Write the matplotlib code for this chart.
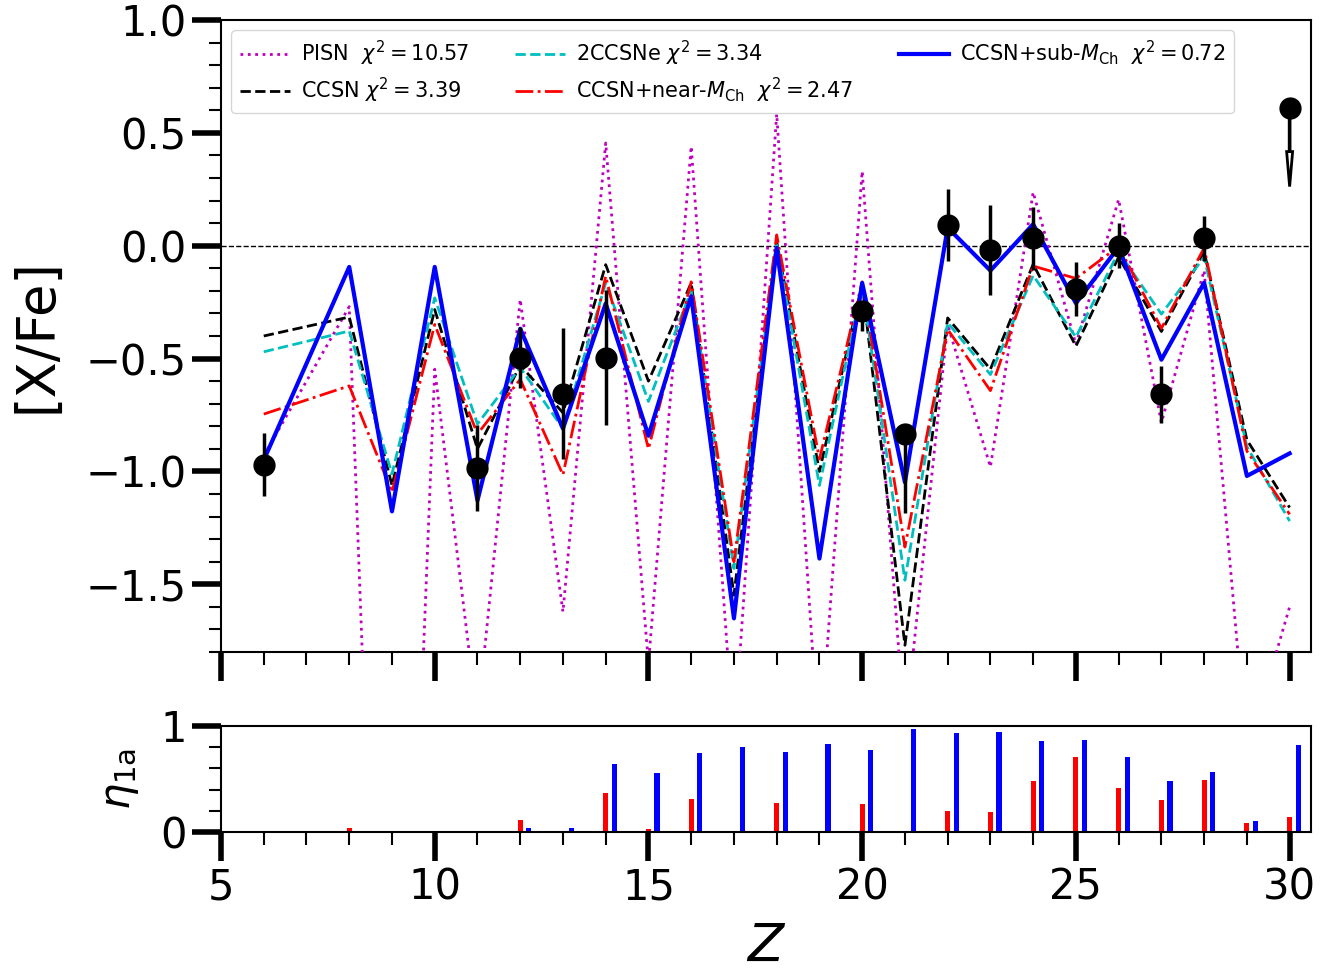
import numpy as np
import matplotlib
matplotlib.use("Agg")
import matplotlib.pyplot as plt
from matplotlib.ticker import MultipleLocator

# ---------------- data ----------------
Z_mod = [6, 8, 9, 10, 11, 12, 13, 14, 15, 16, 17, 18, 19, 20, 21, 22, 23, 24, 25, 26, 27, 28, 29, 30]

pisn = [-0.93, -0.27, -5.3, -0.547, -2.1, -0.238, -1.622, 0.455, -1.85, 0.44, -2.2, 0.583,
        -2.25, 0.33, -2.15, -0.35, -0.98, 0.237, -0.437, 0.205, -0.784, -0.11, -2.25, -1.6]
ccsn = [-0.40, -0.316, -1.062, -0.283, -0.90, -0.53, -0.74, -0.084, -0.60, -0.165, -1.548, 0.018,
        -1.00, -0.17, -1.77, -0.32, -0.547, -0.082, -0.445, -0.05, -0.38, -0.027, -0.86, -1.16]
ccsn2 = [-0.47, -0.378, -1.011, -0.231, -0.79, -0.54, -0.81, -0.165, -0.69, -0.20, -1.43, 0.004,
         -1.062, -0.18, -1.482, -0.341, -0.571, -0.132, -0.405, -0.027, -0.303, -0.05, -0.89, -1.22]
near = [-0.746, -0.621, -1.092, -0.349, -0.834, -0.592, -1.015, -0.135, -0.90, -0.16, -1.40, 0.048,
        -0.945, -0.16, -1.335, -0.371, -0.642, -0.09, -0.145, -0.003, -0.366, -0.01, -0.91, -1.19]
sub = [-0.95, -0.094, -1.177, -0.094, -1.129, -0.368, -0.81, -0.256, -0.842, -0.224, -1.651, -0.01,
       -1.386, -0.165, -1.048, 0.08, -0.11, 0.095, -0.255, -0.006, -0.505, -0.164, -1.02, -0.92]

labels = [r"PISN  $\chi^2=10.57$", r"CCSN $\chi^2=3.39$", r"2CCSNe $\chi^2=3.34$",
          r"CCSN+near-$M_{\rm Ch}$  $\chi^2=2.47$", r"CCSN+sub-$M_{\rm Ch}$  $\chi^2=0.72$"]

Z_obs = [6, 11, 12, 13, 14, 20, 21, 22, 23, 24, 25, 26, 27, 28]
obs = [-0.97, -0.985, -0.496, -0.655, -0.496, -0.29, -0.835, 0.093, -0.019, 0.032, -0.192, 0.0, -0.659, 0.032]
err_lo = [0.14, 0.19, 0.135, 0.29, 0.30, 0.09, 0.35, 0.16, 0.20, 0.14, 0.12, 0.10, 0.127, 0.10]
err_hi = [0.14, 0.19, 0.135, 0.29, 0.30, 0.04, 0.03, 0.16, 0.20, 0.14, 0.12, 0.10, 0.127, 0.10]

Z_lim = [30]
lim_val = [0.608]
lim_len = [0.346]

Z_bar = list(range(6, 31))
eta_near = [0, 0, 0.035, 0, 0, 0, 0.11, 0.005, 0.37, 0.025, 0.312, 0.006, 0.274, 0, 0.261, 0.006,
            0.194, 0.191, 0.481, 0.71, 0.414, 0.303, 0.494, 0.086, 0.137]
eta_sub = [0, 0, 0.013, 0, 0, 0, 0.035, 0.038, 0.646, 0.56, 0.748, 0.8, 0.752, 0.828, 0.771, 0.968,
           0.93, 0.943, 0.863, 0.866, 0.704, 0.481, 0.57, 0.108, 0.818]

# ---------------- figure ----------------
W, H = 1341, 973
fig = plt.figure(figsize=(W / 100, H / 100), dpi=100)

def fx(px):
    return px / W

def fy(py):
    return 1 - py / H

L, R = 221, 1311
ax = fig.add_axes([fx(L), fy(652), fx(R - L), fy(20) - fy(652)])
ax2 = fig.add_axes([fx(L), fy(832), fx(R - L), fy(726) - fy(832)])

for a in (ax, ax2):
    for s in a.spines.values():
        s.set_linewidth(1.5)
    a.tick_params(which='major', direction='out', length=21, width=4, labelsize=30, pad=3.5)
    a.tick_params(which='minor', direction='out', length=9, width=1.5)
    a.set_xlim(5, 30.5)
    a.xaxis.set_major_locator(MultipleLocator(5))
    a.xaxis.set_minor_locator(MultipleLocator(1))

# top panel
ax.plot(Z_mod, pisn, color='m', ls=':', lw=2, label=labels[0], zorder=3)
ax.plot(Z_mod, ccsn, color='k', ls='--', lw=2, label=labels[1], zorder=3)
ax.plot(Z_mod, ccsn2, color='c', ls='--', lw=2, label=labels[2], zorder=3)
ax.plot(Z_mod, near, color='r', ls='-.', lw=2, label=labels[3], zorder=3)
ax.plot(Z_mod, sub, color='b', ls='-', lw=3, label=labels[4], zorder=4)
ax.axhline(0, color='k', ls='--', lw=1, zorder=2)

ax.errorbar(Z_obs, obs, yerr=[err_lo, err_hi], fmt='o', color='k', ms=15,
            elinewidth=2.5, capsize=0, zorder=10)
ax.plot(Z_lim, lim_val, 'o', color='k', ms=15, zorder=10)
for zl, vl, ll in zip(Z_lim, lim_val, lim_len):
    ax.arrow(zl, vl, 0, -ll, width=0.02, head_width=0.14, head_length=0.155,
             length_includes_head=True, fc='white', ec='k', lw=2, zorder=10)

ax.set_ylim(-1.8, 1.0)
ax.yaxis.set_minor_locator(MultipleLocator(0.1))
ax.set_yticks([-1.5, -1.0, -0.5, 0.0, 0.5, 1.0])
ax.tick_params(axis='x', labelbottom=False)
ax.set_ylabel('[X/Fe]', fontsize=38)
ax.yaxis.set_label_coords((62 - L) / (R - L), 0.5)

ax.legend(loc='upper left', ncol=3, fontsize=15, handlelength=2.4, handletextpad=0.53,
          columnspacing=2.2, labelspacing=0.38, borderaxespad=0.5)

# bottom panel
Zb = np.array(Z_bar, dtype=float)
ax2.bar(Zb, eta_near, width=0.12, color='r', align='center')
ax2.bar(Zb + 0.2, eta_sub, width=0.12, color='b', align='center')
ax2.set_ylim(0, 1)
ax2.set_yticks([0, 1])
ax2.yaxis.set_minor_locator(MultipleLocator(0.2))
ax2.set_ylabel(r'$\eta_{\rm 1a}$', fontsize=30)
ax2.yaxis.set_label_coords((141 - L) / (R - L), 0.5)
ax2.set_xlabel(r'$Z$', fontsize=38, labelpad=9)

fig.savefig('out.png', dpi=100)
